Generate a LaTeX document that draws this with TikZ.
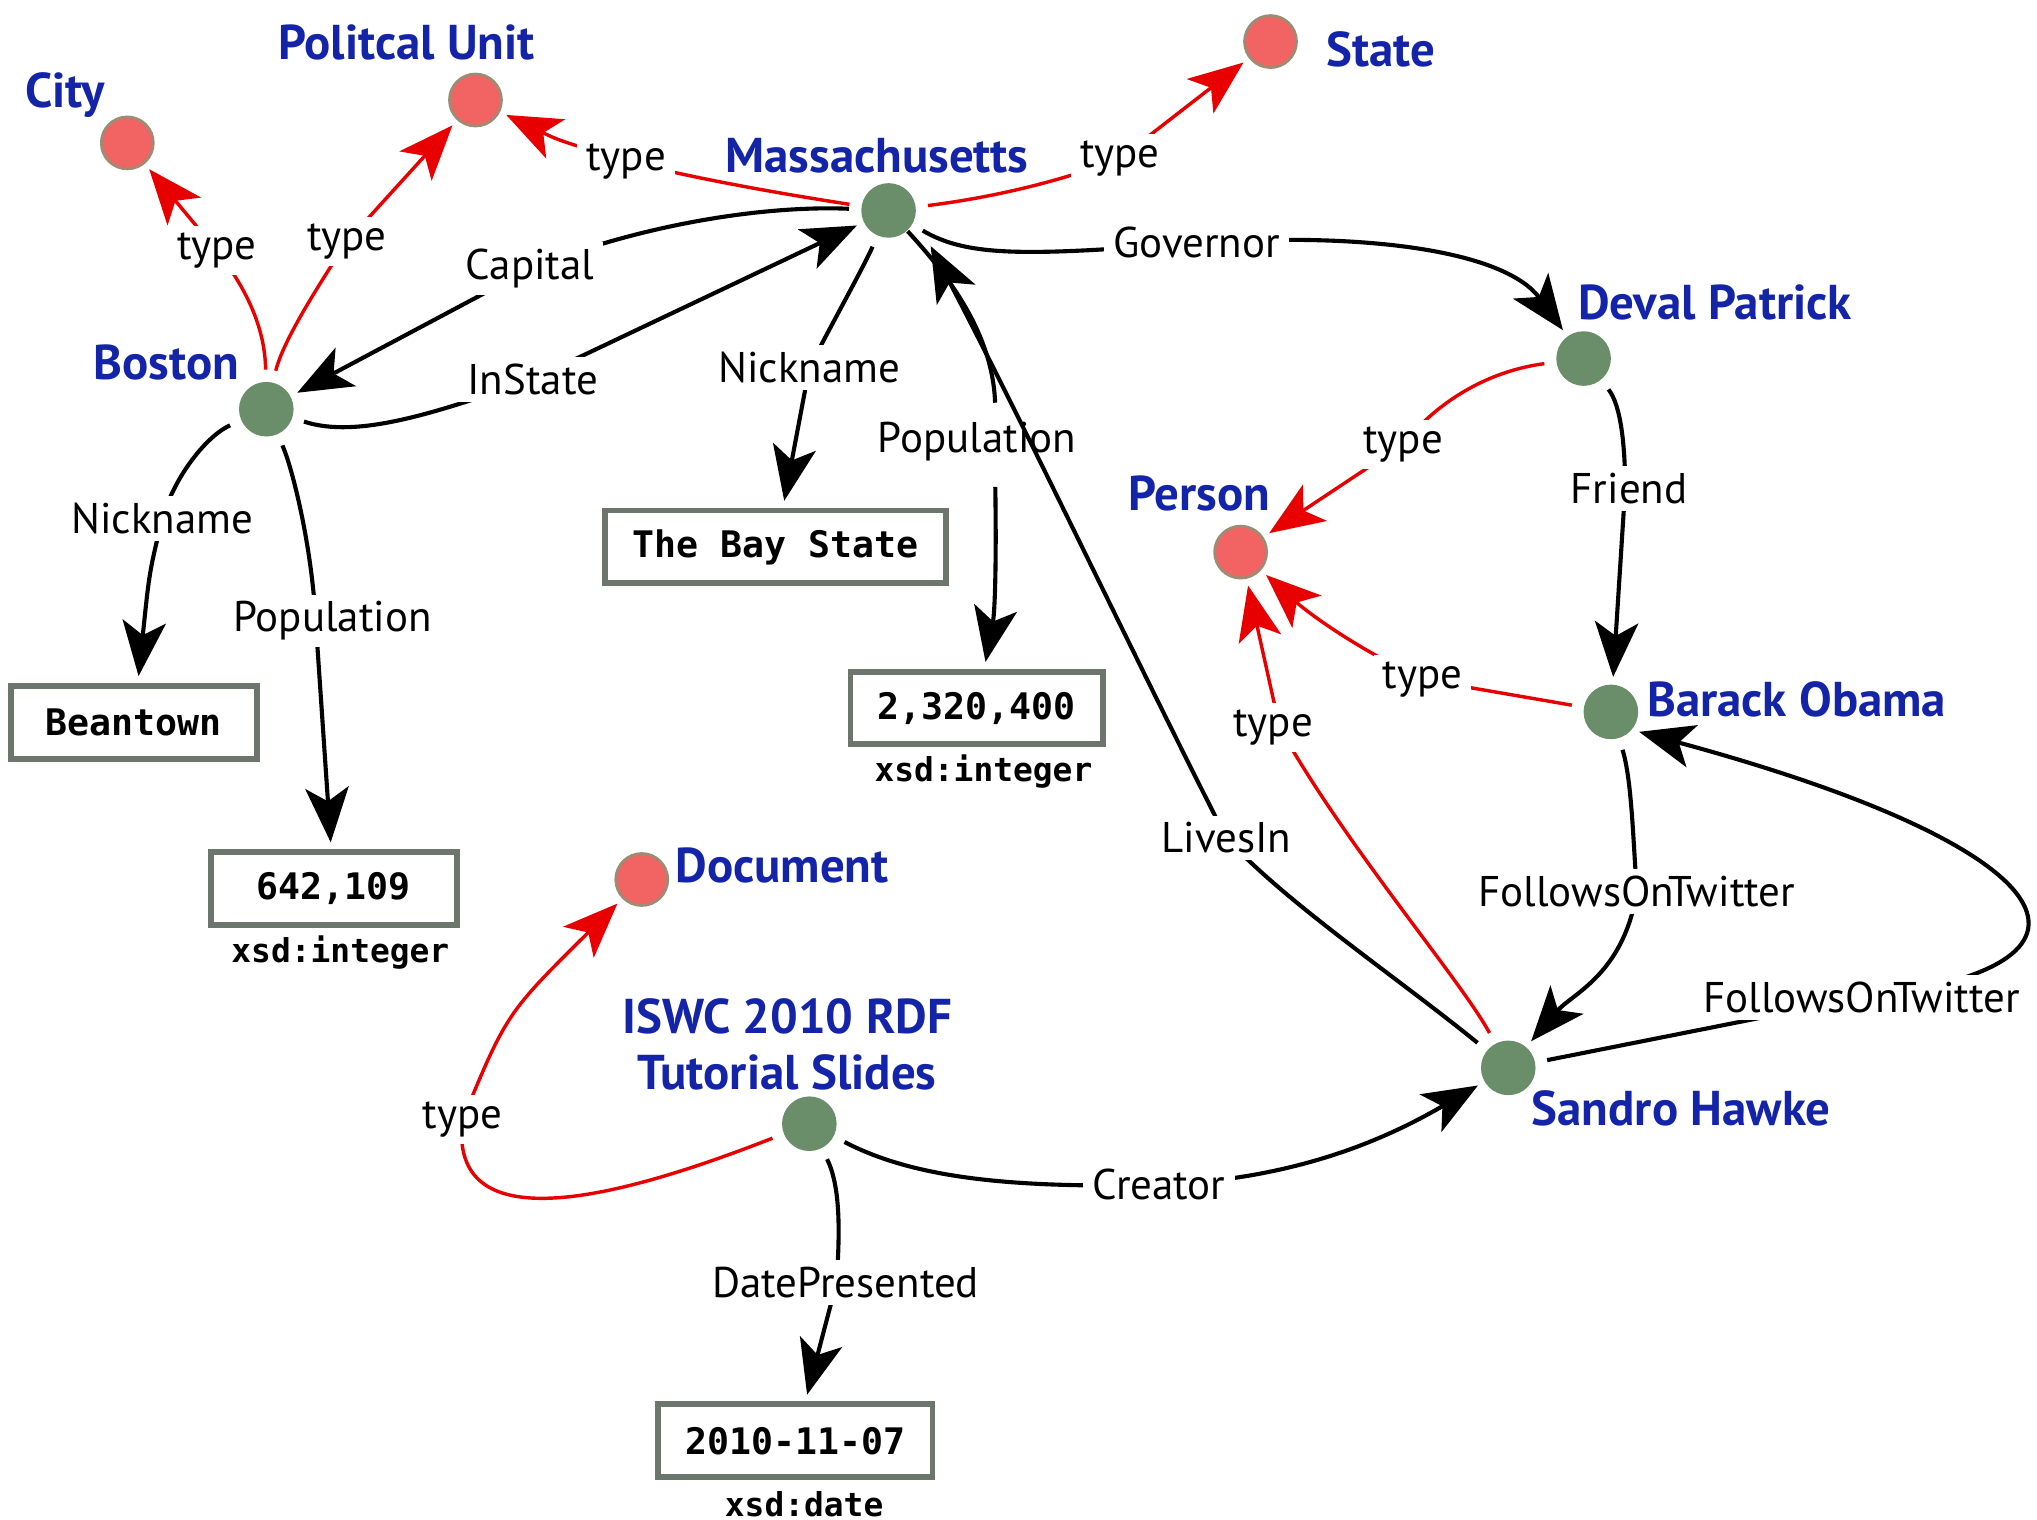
\documentclass[tikz,border=0pt]{standalone}
\usepackage{fontspec}
\setmainfont{PT Sans}
\newfontfamily\litfont{DejaVu Sans Mono}
\usetikzlibrary{arrows.meta}
\pgfdeclarelayer{edges}
\pgfsetlayers{edges,main}

\definecolor{resgreen}{HTML}{6A8E6A}
\definecolor{classred}{HTML}{F26464}
\definecolor{classrim}{HTML}{9C8C74}
\definecolor{namblue}{HTML}{1424A8}
\definecolor{typered}{HTML}{E80000}
\definecolor{litrim}{HTML}{6C766C}

\tikzset{
  res/.style={circle, fill=resgreen, minimum size=0.42cm, inner sep=0pt},
  cls/.style={circle, fill=classred, draw=classrim, line width=0.6pt, minimum size=0.4cm, inner sep=0pt},
  nodetitle/.style={text=namblue, font=\fontsize{10.7}{12.2}\selectfont\bfseries, inner sep=0pt, align=center},
  lit/.style={draw=litrim, line width=1.3pt, fill=white, minimum width=1.89cm, minimum height=0.56cm,
    inner xsep=6pt, font=\litfont\bfseries\fontsize{8}{9}\selectfont},
  dtype/.style={font=\litfont\bfseries\fontsize{7.2}{8}\selectfont, inner sep=0pt},
  prop/.style={fill=white, inner xsep=2pt, inner ysep=1.5pt, font=\fontsize{9.4}{10.5}\selectfont},
  bareprop/.style={prop, fill=none},
  rel/.style={line width=0.9pt, -{Stealth[length=12pt,width=9.5pt,inset=3pt]},
    shorten <=2.5pt, shorten >=1.5pt},
  isa/.style={rel, draw=typered, line width=0.75pt},
}

\begin{document}
\begin{tikzpicture}[x=0.01cm,y=-0.01cm]
\useasboundingbox (0,0) rectangle (1568,1170);

% classes
\node[cls] (city) at (98,110) {};
\node[cls] (polunit) at (366,77) {};
\node[cls] (state) at (978,32) {};
\node[cls] (person) at (955,425) {};
\node[cls] (doc) at (494,677) {};

% resources
\node[res] (boston) at (205,315) {};
\node[res] (mass) at (684,162) {};
\node[res] (deval) at (1219,276) {};
\node[res] (obama) at (1240,548) {};
\node[res] (sandro) at (1161,822) {};
\node[res] (iswc) at (623,865) {};

% names of classes and resources
\node[nodetitle] (cityT) at (50,73) {City};
\node[nodetitle] (polunitT) at (313,33) {Politcal Unit};
\node[nodetitle] (stateT) at (1063,38) {State};
\node[nodetitle] (massT) at (675,120) {Massachusetts};
\node[nodetitle] (bostonT) at (128,279) {Boston};
\node[nodetitle] (devalT) at (1320,233) {Deval Patrick};
\node[nodetitle] (personT) at (923,380) {Person};
\node[nodetitle] (obamaT) at (1383,538) {Barack Obama};
\node[nodetitle] (docT) at (602,666) {Document};
\node[nodetitle] (iswcT) at (606,804) {ISWC 2010 RDF\\Tutorial Slides};
\node[nodetitle] (sandroT) at (1294,853) {Sandro Hawke};

% literals
\node[lit] (baystate) at (597,421) {The Bay State};
\node[lit] (beantown) at (103,556) {Beantown};
\node[lit] (bospop) at (257,684) {642,109};
\node[lit] (masspop) at (752,545) {2,320,400};
\node[lit] (date) at (612,1109) {2010-11-07};
\node[dtype] (bospopT) at (262,733) {xsd:integer};
\node[dtype] (masspopT) at (757,594) {xsd:integer};
\node[dtype] (dateT) at (619,1158) {xsd:date};

% property labels
\node[prop] (p1) at (167,193) {type};
\node[prop] (p2) at (267,186) {type};
\node[prop] (p3) at (482,124) {type};
\node[prop] (p4) at (862,122) {type};
\node[prop] (pc) at (408,207) {Capital};
\node[prop] (pi) at (410,292) {InState};
\node[prop] (pn1) at (623,283) {Nickname};
\node[bareprop] (pp1) at (752,340) {Population};
\node[prop] (pg) at (921,187) {Governor};
\node[prop] (pn2) at (125,399) {Nickname};
\node[prop] (pp2) at (256,478) {Population};
\node[prop] (pt5) at (1080,342) {type};
\node[prop] (pf) at (1254,376) {Friend};
\node[prop] (pt6) at (1095,523) {type};
\node[prop] (pt7) at (980,560) {type};
\node[prop] (pl) at (944,645) {LivesIn};
\node[prop] (pfw1) at (1260,686) {FollowsOnTwitter};
\node[prop] (pfw2) at (1433,768) {FollowsOnTwitter};
\node[prop] (pt8) at (356,862) {type};
\node[prop] (pcr) at (892,912) {Creator};
\node[prop] (pd) at (651,987) {DatePresented};

\begin{pgfonlayer}{edges}
% rdf:type links
\draw[isa] (boston) .. controls (204,255) and (192,225) .. (p1.center) -- (city);
\draw[isa] (boston) .. controls (218,262) and (245,220) .. (p2.center) -- (polunit);
\draw[isa] (mass) .. controls (620,152) and (545,140) .. (p3.center) .. controls (430,108) .. (polunit);
\draw[isa] (mass) .. controls (740,155) and (800,146) .. (p4.center) -- (state);
\draw[isa] (deval) .. controls (1150,285) and (1110,305) .. (pt5.center) -- (person);
\draw[isa] (obama) -- (pt6.center) .. controls (1040,497) and (1005,470) .. (person);
\draw[isa] (sandro) .. controls (1125,755) and (1035,650) .. (985,560) -- (person);
\draw[isa] (iswc) .. controls (470,925) and (345,955) .. (pt8.center) .. controls (390,780) .. (doc);

% other properties
\draw[rel] (mass) .. controls (590,158) and (495,172) .. (pc.center) -- (boston);
\draw[rel] (boston) .. controls (275,338) and (335,318) .. (pi.center) -- (mass);
\draw[rel] (mass) .. controls (665,205) and (640,250) .. (pn1.center) -- (baystate);
\draw[rel] (mass) .. controls (728,210) and (764,255) .. (766,310)
           (766,366) .. controls (767,430) and (766,470) .. (masspop);
\draw[rel] (mass) .. controls (745,198) and (790,197) .. (pg.center)
           .. controls (1060,178) and (1160,195) .. (deval);
\draw[rel] (boston) .. controls (160,335) and (135,365) .. (pn2.center) .. controls (115,440) .. (beantown);
\draw[rel] (boston) .. controls (225,360) and (240,420) .. (243,478) -- (bospop);
\draw[rel] (deval) .. controls (1248,312) and (1251,345) .. (1251,376) -- (obama);
\draw[rel, shorten >=7pt] (sandro) .. controls (1075,752) and (990,695) .. (pl.center)
           .. controls (880,520) and (790,330) .. (mass.-15);
\draw[rel] (obama) .. controls (1256,600) and (1257,645) .. (pfw1.center)
           .. controls (1250,750) and (1210,765) .. (sandro);
\draw[rel] (sandro) -- (pfw2.center) .. controls (1640,745) and (1600,655) .. (obama.-40);
\draw[rel] (iswc) .. controls (700,905) and (770,915) .. (pcr.center)
           .. controls (1000,908) and (1070,875) .. (sandro);
\draw[rel] (iswc) .. controls (648,915) and (646,955) .. (644,987) -- (date);
\end{pgfonlayer}
\end{tikzpicture}
\end{document}
